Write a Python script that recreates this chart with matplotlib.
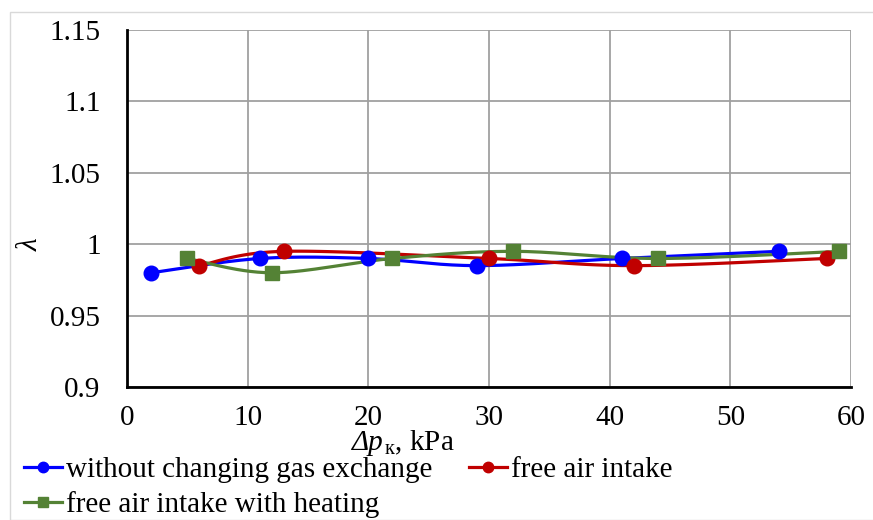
import numpy as np
import matplotlib
matplotlib.use("Agg")
import matplotlib.pyplot as plt
from matplotlib.lines import Line2D
from matplotlib.patches import Rectangle

# data
dp_blue = [2, 11, 20, 29, 41, 54]
lam_blue = [0.980, 0.990, 0.990, 0.985, 0.990, 0.995]
dp_red = [6, 13, 30, 42, 58]
lam_red = [0.985, 0.995, 0.990, 0.985, 0.990]
dp_green = [5, 12, 22, 32, 44, 59]
lam_green = [0.990, 0.980, 0.990, 0.995, 0.990, 0.995]

labels = ["without changing gas exchange", "free air intake",
          "free air intake with heating"]
x_ticks = [0, 10, 20, 30, 40, 50, 60]
y_ticks = [0.9, 0.95, 1.0, 1.05, 1.1, 1.15]
y_tick_labels = ["0.9", "0.95", "1", "1.05", "1.1", "1.15"]


def smooth(x, y, n=30):
    """Excel-like smoothed line: Catmull-Rom segments as cubic Beziers."""
    p = np.column_stack([x, y]).astype(float)
    out = []
    for i in range(len(p) - 1):
        p0 = p[i - 1] if i > 0 else p[i]
        p1, p2 = p[i], p[i + 1]
        p3 = p[i + 2] if i + 2 < len(p) else p[i + 1]
        c1 = p1 + (p2 - p0) / 6.0
        c2 = p2 - (p3 - p1) / 6.0
        t = np.linspace(0, 1, n)[:, None]
        seg = ((1 - t) ** 3) * p1 + 3 * ((1 - t) ** 2) * t * c1 \
            + 3 * (1 - t) * t ** 2 * c2 + t ** 3 * p2
        out.append(seg if i == 0 else seg[1:])
    s = np.vstack(out)
    return s[:, 0], s[:, 1]


plt.rcParams["font.family"] = ["Liberation Serif", "DejaVu Serif"]
plt.rcParams["mathtext.fontset"] = "custom"
plt.rcParams["mathtext.rm"] = "Liberation Serif"
plt.rcParams["mathtext.it"] = "Liberation Serif:italic"
FS = 21

W, H = 873, 520
fig = plt.figure(figsize=(W / 100, H / 100), dpi=100)
ax = fig.add_axes([127 / W, 1 - 387 / H, (851 - 127) / W, (387 - 30) / H])

series = [
    (dp_blue, lam_blue, "#0000FF", "o", 10.5),
    (dp_red, lam_red, "#C00000", "o", 10.5),
    (dp_green, lam_green, "#548235", "s", 9.5),
]
handles = []
for (xs, ys, c, m, ms), lab in zip(series, labels):
    sx, sy = smooth(xs, ys)
    ax.plot(sx, sy, color=c, lw=2.3, zorder=3, solid_capstyle="round")
    ax.plot(xs, ys, ls="none", marker=m, ms=ms, color=c, zorder=4)
    handles.append(Line2D([], [], color=c, lw=2.3, marker=m, ms=7.5, label=lab))

ax.set_xlim(0, 60)
ax.set_ylim(0.9, 1.15)
ax.set_xticks(x_ticks)
ax.set_yticks(y_ticks)
ax.set_yticklabels(y_tick_labels)
ax.grid(True, color="#A0A0A0", lw=1.3)
ax.set_axisbelow(True)
ax.tick_params(length=0, labelsize=FS)
ax.tick_params(axis="y", pad=19)
ax.tick_params(axis="x", pad=13)
for side in ("top", "right"):
    ax.spines[side].set_visible(False)
for side in ("left", "bottom"):
    ax.spines[side].set_linewidth(2)
    ax.spines[side].set_color("black")

fig.text(31 / W, 1 - 245 / H, "λ", rotation=90, style="italic",
         fontsize=FS, ha="center", va="center")

# x label "Δp_к, kPa": italic part, then subscript and units right after it
base_y = 1 - 450 / H
t1 = fig.text(352 / W, base_y, "Δp", style="italic", fontsize=FS,
              va="baseline", ha="left")
fig.canvas.draw()
bb = t1.get_window_extent(fig.canvas.get_renderer())
fig.text(bb.x1 / W, base_y, "$_{\\mathrm{к}}$, kPa", fontsize=FS,
         va="baseline", ha="left")

fig.legend(handles=[handles[0], handles[2], handles[1]], ncol=2,
           loc="upper left", bbox_to_anchor=(24 / W, 1 - 457 / H),
           frameon=False, fontsize=FS, handlelength=1.3, handletextpad=0.15,
           columnspacing=1.25, labelspacing=0.27, borderaxespad=0,
           borderpad=0)

fig.patches.append(Rectangle((10 / W, 0), 1, 1 - 12 / H, transform=fig.transFigure,
                             fill=False, ec="#D9D9D9", lw=1, figure=fig))

fig.savefig("out.png", dpi=100)
